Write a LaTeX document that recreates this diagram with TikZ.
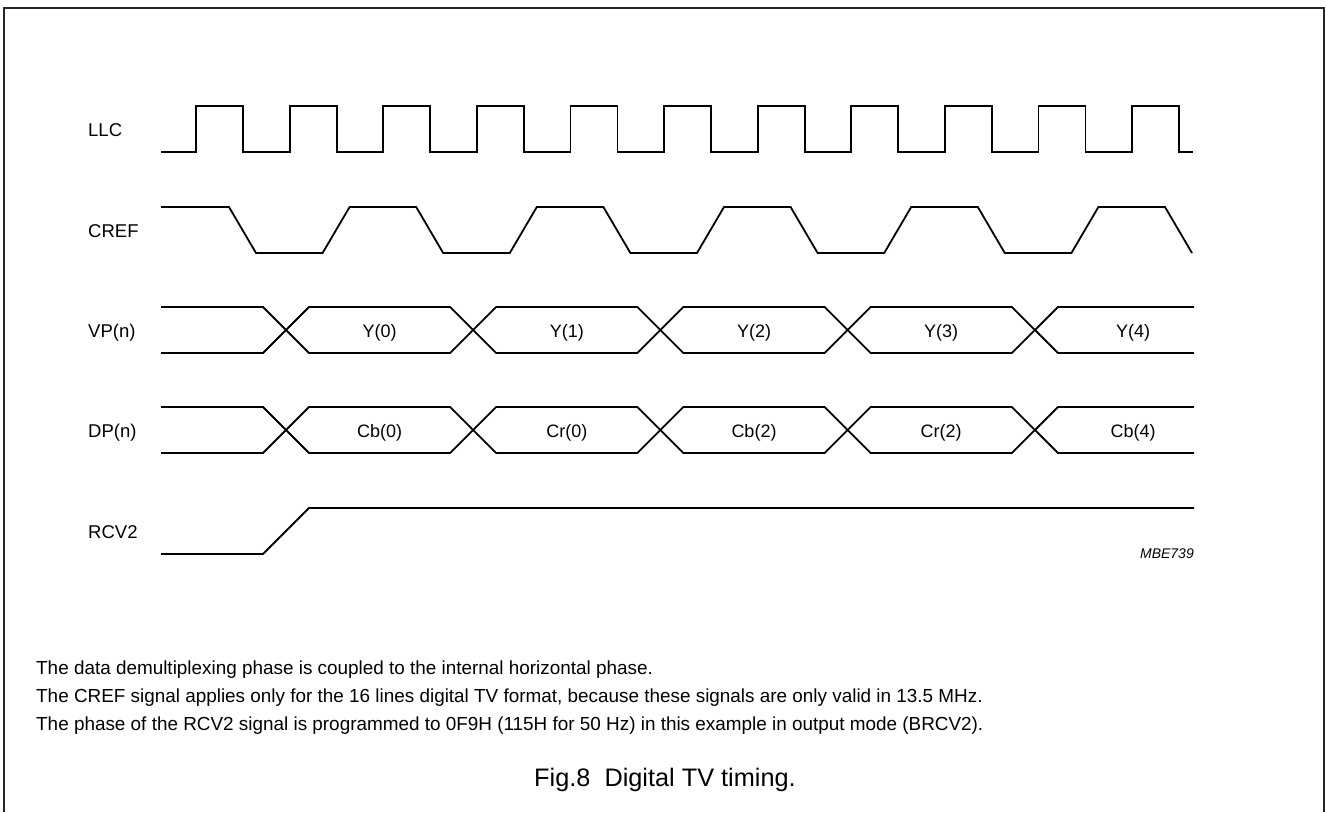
\documentclass[tikz,border=0pt]{standalone}
\usepackage{fontspec}
\setmainfont{Liberation Sans}
\usepackage{tikz}
\usetikzlibrary{positioning}

\begin{document}
\begin{tikzpicture}[x=1pt,y=-1pt,
  sig/.style={line width=1.8pt,line join=miter},
  frame/.style={line width=1.2pt,draw=black!85},
  lbl/.style={anchor=base west,inner sep=0pt,font=\fontsize{18.5}{22}\selectfont},
  val/.style={anchor=base,inner sep=0pt,font=\fontsize{18}{22}\selectfont},
  note/.style={anchor=base west,inner sep=0pt,font=\fontsize{18.9}{22}\selectfont},
  code/.style={anchor=base east,inner sep=0pt,font=\fontsize{14}{16}\selectfont\itshape},
  figcap/.style={anchor=base,inner sep=0pt,font=\fontsize{25.3}{28}\selectfont}]
\useasboundingbox (0,0) rectangle (1326,812);
\draw[frame] (4,812) -- (4,8) -- (1324,8) -- (1324,812);

\foreach \name/\ym in {LLC/129,CREF/230,VP(n)/330,DP(n)/430,RCV2/531}
  \node[lbl] (lbl\ym) at (88,\ym+7) {\name};

\draw[sig] (161,152) \foreach \k in {0,...,10}{ -- ({196+93.6*\k},152) -- ++(0,-46) -- ++(47,0) -- ++(0,46)} -- (1193,152);

\draw[sig] (161,207) \foreach \k in {0,...,4}{ -- ({229+187.2*\k},207) -- ++(27,46) -- ({322.6+187.2*\k},253) -- ++(27,-46)} -- (1165,207) -- (1192,253);

\foreach \ym in {330,430}{
  \draw[sig] (161,\ym-23) -- (263,\ym-23) -- (286,\ym) -- (263,\ym+23) -- (161,\ym+23);
  \foreach \k in {0,...,3}
    \draw[sig] ({286+187.2*\k},\ym) -- ++(23,-23) -- ({286+187.2*(\k+1)-23},\ym-23) -- ++(23,23) -- ++(-23,23) -- ({286+187.2*\k+23},\ym+23) -- cycle;
  \draw[sig] (1194,\ym-23) -- (1058,\ym-23) -- (1035,\ym) -- (1058,\ym+23) -- (1194,\ym+23);
}

\foreach \txt/\xc [count=\i] in {Y(0)/379.6,Y(1)/566.8,Y(2)/754,Y(3)/941.2,Y(4)/1133}
  \node[val] (vp\i) at (\xc,337) {\txt};
\foreach \txt/\xc [count=\i] in {Cb(0)/379.6,Cr(0)/566.8,Cb(2)/754,Cr(2)/941.2,Cb(4)/1133}
  \node[val] (dp\i) at (\xc,437) {\txt};

\draw[sig] (161,554) -- (263,554) -- (309,508) -- (1194,508);

\node[code] (mbe) at (1194,558) {MBE739};

\node[note] (n1) at (36,674) {The data demultiplexing phase is coupled to the internal horizontal phase.};
\node[note] (n2) at (36,702) {The CREF signal applies only for the 16 lines digital TV format, because these signals are only valid in 13.5 MHz.};
\node[note] (n3) at (36,730) {The phase of the RCV2 signal is programmed to 0F9H (115H for 50 Hz) in this example in output mode (BRCV2).};

\node[figcap] (cap) at (665,786) {Fig.8\ \ Digital TV timing.};
\end{tikzpicture}
\end{document}
